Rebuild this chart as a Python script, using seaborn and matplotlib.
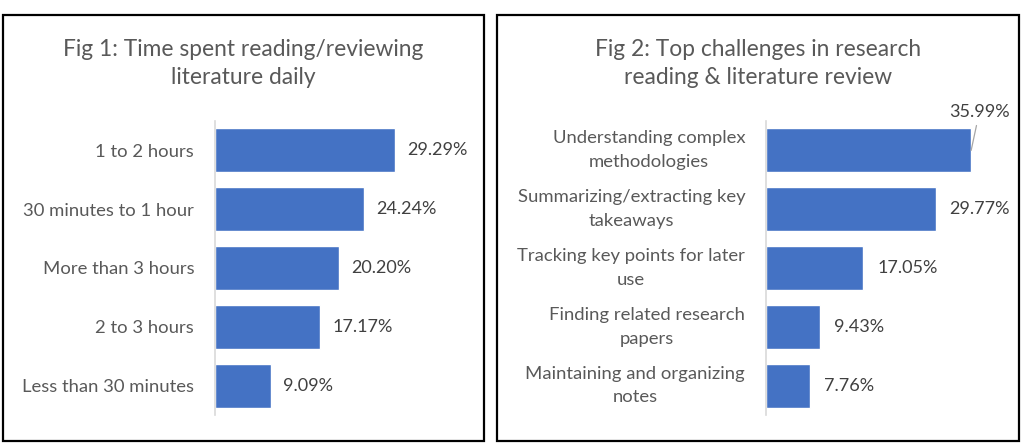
import matplotlib
matplotlib.use("Agg")
import matplotlib.pyplot as plt
import seaborn as sns
import pandas as pd
from matplotlib.patches import Rectangle

# chart values
time_labels = ["1 to 2 hours", "30 minutes to 1 hour", "More than 3 hours",
               "2 to 3 hours", "Less than 30 minutes"]
time_share = [29.29, 24.24, 20.20, 17.17, 9.09]

challenge_labels = ["Understanding complex\nmethodologies",
                    "Summarizing/extracting key\ntakeaways",
                    "Tracking key points for later\nuse",
                    "Finding related research\npapers",
                    "Maintaining and organizing\nnotes"]
challenge_share = [35.99, 29.77, 17.05, 9.43, 7.76]

title_1 = "Fig 1: Time spent reading/reviewing\nliterature daily"
title_2 = "Fig 2: Top challenges in research\nreading & literature review"

sns.set_style("white")
plt.rcParams['font.family'] = ['Lato', 'DejaVu Sans']

BAR = "#4472C4"
GREY = "#595959"
W, H = 1024, 446
LABEL_SIZE = 13.3
VALUE_SIZE = 13

fig = plt.figure(figsize=(10.24, 4.46), dpi=100)


def frac(x0, y0, x1, y1):
    # pixel box (top-left origin) -> figure fraction rect
    return [x0 / W, 1 - y1 / H, (x1 - x0) / W, (y1 - y0) / H]


# panel frames
for x0, x1 in [(3, 484), (497, 1019)]:
    fig.patches.append(Rectangle((x0 / W, 1 - 441 / H), (x1 - x0) / W, 426 / H,
                                 transform=fig.transFigure, fill=False,
                                 edgecolor="black", linewidth=1.6))

xmax = 42
ax1 = fig.add_axes(frac(215, 121, 215 + xmax * 6.13, 415))
ax2 = fig.add_axes(frac(766, 121, 766 + xmax * 5.70, 415))

df1 = pd.DataFrame({"label": time_labels, "share": time_share})
df2 = pd.DataFrame({"label": challenge_labels, "share": challenge_share})

for ax, df in [(ax1, df1), (ax2, df2)]:
    sns.barplot(data=df, x="share", y="label", orient="h", color=BAR,
                saturation=1, width=0.75, ax=ax)
    ax.set_xlim(0, xmax)
    ax.set_ylim(len(df) - 0.5, -0.5)
    ax.set_xlabel("")
    ax.set_ylabel("")
    ax.set_xticks([])
    for s in ["top", "right", "bottom"]:
        ax.spines[s].set_visible(False)
    ax.spines["left"].set_color("#d9d9d9")
    ax.spines["left"].set_linewidth(1.2)
    ax.tick_params(axis="y", length=0, pad=15, labelsize=LABEL_SIZE, labelcolor=GREY)
    for t in ax.get_yticklabels():
        t.set_multialignment("center")
        t.set_linespacing(1.6)

# two-line labels: centre the whole block on the bar
for t in ax2.get_yticklabels():
    t.set_verticalalignment("center")

ax1.bar_label(ax1.containers[0], labels=[f"{v:.2f}%" for v in time_share],
              padding=9, fontsize=VALUE_SIZE, color="#404040")

# first label of fig 2 sits above the bar with a leader line
ax2.bar_label(ax2.containers[0],
              labels=[""] + [f"{v:.2f}%" for v in challenge_share[1:]],
              padding=10, fontsize=VALUE_SIZE, color="#404040")
ax2.annotate(f"{challenge_share[0]:.2f}%", xy=(challenge_share[0], 0),
             xytext=(6, 28), textcoords="offset points", ha="center", va="center",
             fontsize=VALUE_SIZE, color="#404040",
             arrowprops=dict(arrowstyle="-", color="#a6a6a6", lw=0.9,
                             shrinkA=2, shrinkB=0))

fig.text(243.5 / W, 1 - 63.5 / H, title_1, ha="center", va="center",
         fontsize=16.4, color=GREY, linespacing=1.36)
fig.text(758 / W, 1 - 63.5 / H, title_2, ha="center", va="center",
         fontsize=16.4, color=GREY, linespacing=1.36)

fig.savefig("out.png", dpi=100)
